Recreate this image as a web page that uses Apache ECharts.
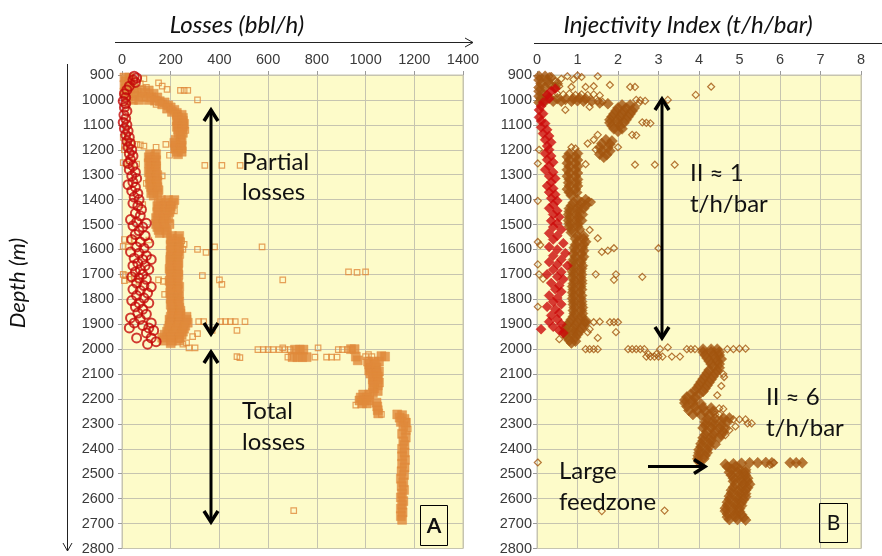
<!DOCTYPE html>
<html>
<head>
<meta charset="utf-8">
<script src="https://cdn.jsdelivr.net/npm/echarts@6/dist/echarts.min.js"></script>
<style>
html,body{margin:0;padding:0;background:#fff;}
#c{width:882px;height:556px;}
</style>
</head>
<body>
<div id="c"></div>
<script>
// ---------- tick labels ----------
const lossTicks = [0, 200, 400, 600, 800, 1000, 1200, 1400];
const iiTicks = [0, 1, 2, 3, 4, 5, 6, 7, 8];
const depthTicks = [900,1000,1100,1200,1300,1400,1500,1600,1700,1800,1900,2000,2100,2200,2300,2400,2500,2600,2700,2800];

// ---------- Panel A: losses (bbl/h) vs depth (m) ----------
// dense core of the orange square cloud
const lossCore = [
[10,910],[30,910],[15,925],[35,925],[10,940],[30,940],[15,955],[35,955],[10,970],[25,985],
[50,955],[80,960],[110,962],[60,970],[95,972],[130,975],[50,985],[85,988],[120,990],[145,990],[70,1000],[110,1000],[135,1003],[45,1000],
[155,1005],[175,1010],[165,1018],[190,1022],[200,1030],[185,1035],[215,1040],[205,1048],[225,1052],
[225,1060],[245,1060],[230,1072],[250,1072],[225,1084],[250,1084],[230,1096],[255,1096],[225,1108],[250,1108],[230,1120],[248,1120],[232,1132],[250,1132],[240,1142],
[220,1160],[245,1160],[215,1172],[240,1172],[220,1184],[245,1184],[218,1196],[242,1196],[225,1208],[245,1208],[230,1218],
[115,1218],[140,1218],[110,1230],[135,1230],[115,1242],[140,1242],[110,1254],[135,1254],[120,1266],[140,1266],[115,1278],[140,1278],[110,1290],[135,1290],[120,1302],[145,1302],[115,1314],[140,1314],[120,1326],[145,1326],[115,1338],[140,1338],[120,1350],[145,1350],[125,1362],[150,1362],[120,1374],[145,1374],[130,1384],
[160,1402],[190,1402],[215,1402],[150,1414],[180,1414],[210,1414],[145,1426],[175,1426],[200,1426],[150,1438],[180,1438],[200,1438],[145,1450],[175,1450],[195,1450],[150,1462],[180,1462],[140,1474],[170,1474],[190,1474],[145,1486],[175,1486],[140,1498],[170,1498],[195,1498],[145,1510],[175,1510],[150,1522],[180,1522],[155,1534],[185,1534],
[205,1546],[235,1546],[200,1558],[230,1558],[205,1570],[235,1570],[200,1582],[225,1582],[205,1594],[235,1594],[200,1606],[230,1606],[205,1618],[235,1618],[200,1630],[228,1630],[198,1642],[225,1642],[205,1654],[232,1654],[200,1666],[228,1666],[195,1678],[225,1678],[200,1690],[230,1690],[205,1702],[232,1702],[200,1714],[225,1714],[195,1726],[225,1726],[200,1738],[230,1738],[205,1750],[235,1750],[200,1762],[228,1762],[198,1774],[225,1774],[205,1786],[232,1786],[200,1798],[228,1798],[205,1810],[235,1810],[200,1822],[230,1822],[205,1834],[235,1834],[210,1846],[240,1846],
[205,1858],[240,1858],[200,1870],[235,1870],[265,1870],[195,1882],[230,1882],[265,1882],[200,1894],[235,1894],[270,1894],[195,1906],[230,1906],[260,1906],[190,1918],[225,1918],[255,1918],[185,1930],[220,1930],[250,1930],[175,1942],[210,1942],[245,1942],[165,1954],[200,1954],[235,1954],[170,1966],[205,1966],[235,1966],[200,1976],
[710,2002],[730,2002],[745,2002],[940,2000],[955,2000],[700,2032],[720,2032],[740,2032],[758,2032],[960,2030],[968,2045],[1065,2028],[1080,2030],
[1010,2050],[1035,2050],[1055,2050],[1015,2062],[1040,2062],[1020,2074],[1045,2074],[1015,2086],[1040,2086],[1055,2090],[1020,2098],[1045,2098],[1030,2110],[1050,2110],[1030,2122],[1050,2122],[1035,2134],[1055,2134],[1030,2146],[1050,2146],[1035,2158],[1050,2168],[1030,2176],
[990,2182],[1015,2182],[980,2194],[1005,2194],[975,2206],[995,2206],[1015,2206],[985,2218],[1005,2218],
[1045,2215],[1048,2230],[1050,2245],[1052,2258],
[1130,2262],[1150,2265],[1140,2275],[1160,2280],[1145,2292],[1165,2295],[1155,2310],[1165,2325],[1150,2340],[1165,2355],[1155,2370],[1160,2385],[1150,2400],[1160,2415],[1150,2430],[1162,2445],[1150,2460],[1160,2475],[1148,2490],[1158,2505],[1145,2520],[1155,2535],[1148,2550],[1158,2565],[1150,2580],[1145,2595],[1155,2610],[1150,2625],[1145,2640],[1152,2655],[1145,2670],[1150,2685]
];
// scattered single squares
const lossScatter = [
[90,915],[40,928],[75,935],[150,932],[165,945],[100,950],[185,958],[240,962],[255,962],[270,962],[310,1000],[95,992],[45,1000],[140,1018],[15,1010],
[255,1108],[262,1122],[245,1140],[250,1200],[215,1195],
[5,1150],[20,1168],[40,1170],[10,1185],[60,1178],[75,1180],[90,1185],[140,1190],[180,1178],[195,1222],[10,1200],[5,1252],[20,1258],[60,1258],[30,1245],
[340,1263],[410,1263],[485,1263],[165,1305],[100,1335],[85,1420],[215,1445],
[10,1560],[30,1562],[50,1560],[5,1588],[25,1590],[110,1562],[245,1565],[255,1580],[250,1600],[310,1600],[345,1612],[380,1590],[575,1590],
[5,1700],[15,1705],[30,1720],[50,1710],[10,1725],[70,1728],[150,1722],[170,1728],[330,1705],[400,1722],[410,1740],[660,1722],[930,1690],[965,1692],[1000,1690],
[240,1782],[175,1780],[230,1900],[315,1890],[335,1890],[405,1890],[425,1890],[445,1890],[465,1890],[505,1890],[370,1925],[472,1925],[235,1962],[250,1980],[265,1975],[290,1950],[310,1938],[275,1995],[300,1995],
[472,2030],[484,2034],[558,2002],[580,2002],[600,2002],[620,2002],[645,2002],[669,2002],[660,1995],[690,2002],[805,1995],[888,2002],[905,2002],[925,2002],[945,2002],
[681,2032],[792,2032],[840,2032],[860,2032],[883,2032],[1000,2030],[1026,2030],[1012,2022],[960,2225],[1065,2262],[705,2648],[1175,2320],[1170,2290]
];
// red circles
const lossRed = [
[50,905],[60,912],[45,920],[55,930],[30,945],[20,960],[10,975],[15,990],[5,1005],[15,1015],[10,1030],[20,1045],[8,1060],[15,1075],[5,1090],[20,1100],[10,1115],[25,1125],[15,1140],[30,1150],[20,1165],[35,1175],[25,1190],[40,1200],[30,1215],[45,1225],[35,1240],[25,1255],[45,1265],[30,1280],[55,1290],[40,1305],[60,1315],[45,1330],[25,1340],[55,1350],[40,1365],[65,1375],[50,1390],[70,1400],[45,1415],[65,1425],[80,1440],[55,1455],[75,1465],[35,1480],[60,1490],[100,1495],[45,1505],[85,1510],[70,1525],[55,1540],[95,1545],[40,1560],[75,1570],[110,1575],[60,1590],[90,1595],[35,1610],[70,1615],[100,1625],[50,1635],[85,1640],[120,1640],[65,1655],[45,1665],[95,1665],[75,1680],[110,1680],[55,1690],[85,1700],[40,1710],[70,1715],[100,1720],[60,1735],[90,1745],[120,1750],[45,1760],[75,1765],[105,1775],[60,1785],[90,1795],[40,1805],[70,1815],[110,1815],[55,1830],[85,1840],[65,1855],[100,1860],[35,1875],[75,1880],[50,1895],[120,1895],[85,1905],[30,1915],[110,1915],[130,1925],[100,1935],[60,1955],[120,1955],[140,1970],[105,1980]
];

// ---------- Panel B: injectivity index (t/h/bar) vs depth (m) ----------
const iiCore = [
[0.05,905],[0.2,905],[0.35,910],[0.05,920],[0.25,920],[0.1,935],[0.3,935],[0.5,935],[0.05,950],[0.2,950],[0.45,950],[0.05,965],[0.15,975],[0.05,985],[0.1,995],[0.3,990],[0.5,995],[0.7,998],[0.9,995],[1.05,992],[1.2,995],[0.2,1005],[0.4,1005],[0.6,1005],[0.85,1005],[1.0,1003],[1.15,1005],[1.35,1005],[0.05,1010],[1.55,1012],[1.75,1015],
[2.1,1020],[2.3,1020],[2.0,1032],[2.2,1032],[2.4,1032],[1.95,1044],[2.15,1044],[2.35,1044],[1.9,1056],[2.1,1056],[2.3,1056],[1.85,1068],[2.05,1068],[2.25,1068],[1.8,1080],[2.0,1080],[2.2,1080],[1.8,1092],[2.0,1092],[2.15,1092],[1.85,1104],[2.05,1104],[1.9,1116],[2.1,1116],[2.0,1126],
[1.7,1160],[1.85,1165],[1.6,1175],[1.8,1178],[1.55,1190],[1.75,1192],[1.6,1205],[1.8,1205],[1.55,1218],[1.72,1220],[1.65,1230],
[0.8,1215],[1.0,1215],[0.75,1228],[0.95,1228],[0.8,1241],[1.0,1241],[0.75,1254],[0.95,1254],[0.8,1267],[1.0,1267],[0.75,1280],[0.95,1280],[0.8,1293],[1.0,1293],[0.75,1306],[0.95,1306],[0.8,1319],[1.0,1319],[0.78,1332],[0.98,1332],[0.8,1345],[1.0,1345],[0.75,1358],[0.95,1358],[0.8,1371],[0.98,1371],[0.85,1384],
[1.0,1400],[1.2,1400],[0.9,1412],[1.1,1412],[1.28,1410],[0.85,1424],[1.05,1424],[1.2,1424],[0.8,1436],[1.0,1436],[1.15,1436],[0.8,1448],[1.0,1448],[0.78,1460],[0.98,1460],[1.12,1460],[0.8,1472],[1.0,1472],[0.78,1484],[0.98,1484],[1.1,1484],[0.8,1496],[1.0,1496],[0.8,1508],[1.0,1508],[0.85,1520],[1.05,1520],[0.85,1532],
[1.0,1545],[1.15,1545],[0.95,1557],[1.15,1557],[1.0,1569],[1.2,1569],[0.95,1581],[1.15,1581],[0.92,1593],[1.12,1593],[0.95,1605],[1.15,1605],[0.9,1617],[1.1,1617],[0.95,1629],[1.15,1629],[0.9,1641],[1.1,1641],[0.88,1653],[1.08,1653],[0.92,1665],[1.12,1665],[0.9,1677],[1.1,1677],[0.88,1689],[1.08,1689],[0.9,1701],[1.1,1701],[0.88,1713],[1.08,1713],[0.92,1725],[1.1,1725],[0.9,1737],[1.1,1737],[0.88,1749],[1.08,1749],[0.9,1761],[1.1,1761],[0.88,1773],[1.06,1773],[0.9,1785],[1.1,1785],[0.88,1797],[1.08,1797],[0.9,1809],[1.1,1809],[0.9,1821],[1.1,1821],[0.92,1833],[1.12,1833],[0.9,1845],[1.1,1845],[0.92,1857],[1.12,1857],[0.9,1869],[1.1,1869],
[0.85,1881],[1.05,1881],[1.2,1885],[0.8,1893],[1.0,1893],[1.2,1893],[0.75,1905],[0.95,1905],[1.15,1905],[0.7,1917],[0.9,1917],[1.1,1917],[0.7,1929],[0.9,1929],[1.05,1929],[0.7,1941],[0.88,1941],[1.0,1941],[0.75,1953],[0.95,1953],[0.8,1965],[0.95,1968],[0.85,1975],
[4.1,2000],[4.3,2000],[4.45,2000],[4.1,2012],[4.3,2012],[4.5,2012],[4.15,2024],[4.35,2024],[4.5,2024],[4.2,2036],[4.4,2036],[4.55,2040],[4.25,2048],[4.45,2048],[4.3,2060],[4.5,2060],
[4.35,2072],[4.5,2075],[4.25,2084],[4.45,2086],[4.2,2096],[4.4,2098],[4.15,2108],[4.35,2110],[4.1,2120],[4.3,2122],[4.05,2132],[4.25,2134],[4.0,2144],[4.2,2146],[3.95,2156],[4.15,2158],[3.9,2168],[4.1,2170],[3.8,2180],[4.0,2182],[3.7,2192],[3.9,2194],[3.65,2204],[3.85,2206],
[3.65,2216],[3.85,2216],[4.05,2220],[3.7,2230],[3.9,2232],[4.1,2234],[4.3,2236],[3.75,2246],[3.95,2248],[4.15,2250],[4.35,2250],[3.85,2262],[4.05,2264],[4.25,2264],
[4.2,2280],[4.4,2278],[4.6,2276],[4.75,2276],[4.15,2292],[4.35,2292],[4.55,2290],[4.7,2292],[4.15,2304],[4.35,2304],[4.55,2306],[4.1,2316],[4.3,2316],[4.5,2318],[4.65,2318],
[4.2,2330],[4.4,2330],[4.6,2332],[4.15,2344],[4.35,2344],[4.55,2344],[4.1,2356],[4.3,2356],[4.5,2356],[4.1,2368],[4.3,2368],[4.05,2380],[4.25,2380],[4.4,2382],[4.05,2392],[4.25,2392],[4.0,2404],[4.2,2404],[4.0,2416],[4.2,2416],[3.98,2428],[4.15,2428],[3.97,2440],[4.12,2440],[4.0,2452],
[4.65,2462],[4.85,2460],[5.05,2458],[5.25,2456],[5.45,2456],[5.65,2455],[5.8,2456],[4.7,2472],[4.9,2472],[6.25,2456],[6.4,2456],[6.55,2456],
[4.8,2482],[5.0,2482],[5.15,2484],[4.75,2494],[4.95,2494],[5.15,2494],[4.8,2506],[5.0,2506],[5.15,2506],[4.85,2518],[5.05,2518],[5.2,2518],[4.85,2530],[5.05,2530],[5.2,2530],[4.9,2542],[5.1,2542],[5.25,2542],[4.85,2554],[5.05,2554],[5.2,2556],[4.8,2566],[5.0,2566],[5.15,2566],[4.8,2578],[5.0,2578],[5.15,2580],[4.75,2590],[4.95,2590],[5.15,2592],[4.75,2602],[4.95,2602],[5.1,2604],[4.7,2614],[4.9,2614],[5.05,2616],[4.7,2626],[4.9,2626],[5.05,2628],[4.65,2638],[4.85,2638],[5.0,2640],[4.65,2650],[4.85,2650],[5.0,2652],[4.7,2662],[4.9,2662],[5.05,2664],[4.7,2674],[4.9,2674],[5.1,2676],[4.75,2684],[4.95,2684],[5.15,2686]
];
const iiScatter = [
[0.3,905],[0.75,905],[1.0,902],[1.1,908],[1.5,905],[0.6,915],[0.9,918],[0.45,925],
[0.35,945],[0.55,945],[0.85,948],[1.2,948],[1.4,945],[1.8,940],[2.3,948],[2.42,948],[4.3,947],
[0.5,975],[0.65,978],[0.8,975],[0.95,980],[1.1,978],[1.25,980],[1.4,978],[1.55,982],[3.92,980],
[1.5,1005],[1.62,1008],[2.45,1000],[2.55,1002],[2.67,1004],[3.23,1000],[2.52,1012],[1.3,1028],[0.7,1040],
[2.6,1090],[2.7,1092],[2.8,1094],[2.35,1140],[2.45,1142],[1.5,1140],[1.4,1160],[1.25,1175],[1.45,1200],[2.0,1190],[0.85,1190],[0.95,1195],[1.2,1258],[2.42,1260],[2.91,1260],[3.4,1260],
[0.05,1200],[0.02,1255],[0.02,1405],[0.02,1570],[0.08,1582],[0.02,1660],[0.05,1700],[0.15,1718],[0.02,1830],
[1.35,1410],[1.3,1522],[1.5,1555],[1.6,1610],[1.75,1605],[1.9,1595],[3.0,1595],[1.45,1700],[1.9,1722],[1.95,1700],[2.6,1710],
[1.2,1895],[1.4,1892],[1.55,1890],[1.8,1892],[1.9,1892],[2.0,1892],[1.3,1920],[1.25,1932],[1.95,1932],[1.5,1955],[0.55,1960],
[1.2,2000],[1.3,2000],[1.4,2000],[1.5,2000],[2.25,2000],[2.35,2000],[2.45,2000],[2.55,2000],[2.65,2000],[3.04,2000],[3.23,1993],[3.7,2000],[3.8,2000],[3.9,2000],[4.7,2000],[4.85,2000],[5.0,1998],[5.15,1998],
[2.7,2030],[2.8,2030],[2.9,2030],[3.0,2030],[3.1,2030],[3.33,2030],[3.53,2030],[2.75,2020],[2.95,2020],
[4.6,2100],[4.62,2112],[4.55,2148],[4.45,2185],[4.5,2238],[4.6,2240],[4.4,2262],[4.5,2262],[4.85,2282],[5.0,2282],[5.15,2282],[5.2,2298],[5.3,2298],[4.9,2310],[4.75,2325],[4.65,2345],
[0.02,2455],[1.6,2650],[3.15,2648],[5.85,2456],[5.75,2465]
];
const iiRed = [
[0.45,955],[0.35,965],[0.25,980],[0.3,995],[0.15,1010],[0.1,1025],[0.05,1040],[0.15,1055],[0.05,1070],[0.1,1085],[0.2,1095],[0.1,1110],[0.25,1120],[0.15,1135],[0.3,1145],[0.2,1160],[0.35,1170],[0.25,1185],[0.3,1200],[0.2,1215],[0.35,1225],[0.25,1240],[0.4,1250],[0.3,1265],[0.2,1280],[0.4,1290],[0.3,1305],[0.45,1315],[0.35,1330],[0.25,1345],[0.4,1355],[0.3,1370],[0.45,1380],[0.35,1395],[0.5,1405],[0.4,1420],[0.3,1435],[0.5,1445],[0.4,1460],[0.55,1470],[0.35,1485],[0.5,1495],[0.4,1510],[0.6,1520],[0.3,1535],[0.5,1545],[0.4,1560],[0.65,1575],[0.3,1590],[0.5,1600],[0.7,1615],[0.4,1625],[0.6,1640],[0.3,1650],[0.5,1660],[0.75,1665],[0.4,1680],[0.6,1690],[0.25,1700],[0.5,1710],[0.65,1720],[0.35,1735],[0.55,1745],[0.45,1760],[0.6,1770],[0.3,1785],[0.5,1795],[0.4,1810],[0.6,1820],[0.25,1830],[0.45,1840],[0.55,1855],[0.35,1865],[0.5,1880],[0.3,1890],[0.6,1900],[0.4,1910],[0.1,1920],[0.55,1925],[0.65,1935]
];

// ---------- styling ----------
const ORANGE = '#E0893B';
const RED_C = '#C40A0A';
const BROWN = '#A3550F';
const RED_D = '#CC0B0B';
const PLOT_BG = '#FDFBC9';
const GRID = '#C6C4B0';
const LABEL_FONT = 'Liberation Sans';
const ANN_FONT = 'Lato';

function plain(v){ return String(v); }

function xAxisOf(idx, ticks){
  return {
    gridIndex: idx, type:'value', position:'top',
    min: ticks[0], max: ticks[ticks.length-1], interval: ticks[1]-ticks[0],
    axisLine:{show:false},
    axisTick:{show:true, length:4, lineStyle:{color:'#9a9a9a'}},
    axisLabel:{fontFamily:LABEL_FONT, fontSize:14.5, color:'#3a3a3a', margin:8, formatter:plain},
    splitLine:{show:true, lineStyle:{color:GRID, width:1}}
  };
}
function yAxisOf(idx, margin){
  return {
    gridIndex: idx, type:'value', inverse:true,
    min: depthTicks[0], max: depthTicks[depthTicks.length-1], interval: depthTicks[1]-depthTicks[0],
    axisLine:{show:false},
    axisTick:{show:true, length:4, lineStyle:{color:'#9a9a9a'}},
    axisLabel:{fontFamily:LABEL_FONT, fontSize:14.5, color:'#3a3a3a', margin:margin, formatter:plain},
    splitLine:{show:true, lineStyle:{color:GRID, width:1}}
  };
}

// annotation helpers (pure drawing)
function chev(x, y, dir){ // dir=-1 tip up, +1 tip down
  return {type:'polyline', silent:true, z:100,
    shape:{points:[[x-7, y-dir*11],[x, y],[x+7, y-dir*11]]},
    style:{stroke:'#000', lineWidth:3.5, fill:null, lineJoin:'miter'}};
}
function dblArrow(x, y1, y2){
  return [
    {type:'line', silent:true, z:100, shape:{x1:x, y1:y1+2, x2:x, y2:y2-2}, style:{stroke:'#000', lineWidth:3}},
    chev(x, y1, -1), chev(x, y2, 1)
  ];
}
function txt(s, x, y, size, opts){
  opts = opts || {};
  return {type:'text', silent:true, z:100, x:x, y:y, rotation: opts.rot || 0,
    style:{text:s, fontFamily:ANN_FONT, fontSize:size, fontStyle:opts.italic?'italic':'normal',
      fontWeight: opts.bold ? 'bold':'normal',
      fill:'#111', align: opts.align || 'left', verticalAlign:'middle'}};
}

const graphics = [].concat(
  // titles
  [txt('Losses (bbl/h)', 237, 25, 24, {italic:true, align:'center'}),
   txt('Injectivity Index (t/h/bar)', 688, 25, 24, {italic:true, align:'center'}),
   txt('Depth (m)', 18, 283, 22, {italic:true, align:'center', rot:Math.PI/2})],
  // top axis arrow line (panel A)
  [{type:'line', silent:true, shape:{x1:115, y1:42.5, x2:473, y2:42.5}, style:{stroke:'#222', lineWidth:1}},
   {type:'polyline', silent:true, shape:{points:[[465,38],[473,42.5],[465,47]]}, style:{stroke:'#222', lineWidth:1, fill:null}},
   {type:'line', silent:true, shape:{x1:534, y1:43.5, x2:882, y2:43.5}, style:{stroke:'#222', lineWidth:1}},
   // depth arrow
   {type:'line', silent:true, shape:{x1:67.5, y1:64, x2:67.5, y2:551}, style:{stroke:'#222', lineWidth:1}},
   {type:'polyline', silent:true, shape:{points:[[63,543],[67.5,551],[72,543]]}, style:{stroke:'#222', lineWidth:1, fill:null}}],
  // panel A annotations
  dblArrow(211, 110, 334),
  dblArrow(211, 352, 522),
  [txt('Partial', 242, 162, 24), txt('losses', 242, 192, 24),
   txt('Total', 242, 411, 24), txt('losses', 242, 442, 24),
   {type:'rect', silent:true, z:100, shape:{x:420.5, y:505.5, width:27, height:40}, style:{stroke:'#000', lineWidth:1, fill:null}},
   txt('A', 434, 526, 21, {align:'center', bold:true})],
  // panel B annotations
  dblArrow(662, 99, 338),
  [txt('II \u2248 1', 690, 173, 24), txt('t/h/bar', 690, 204, 24),
   txt('II \u2248 6', 766, 397, 24), txt('t/h/bar', 766, 428, 24),
   txt('Large', 559, 471, 24), txt('feedzone', 559, 502, 24),
   {type:'line', silent:true, z:100, shape:{x1:648, y1:466.5, x2:703, y2:466.5}, style:{stroke:'#000', lineWidth:3}},
   {type:'polyline', silent:true, z:100, shape:{points:[[694,459.5],[705,466.5],[694,473.5]]}, style:{stroke:'#000', lineWidth:3.5, fill:null}},
   {type:'rect', silent:true, z:100, shape:{x:819.5, y:503.5, width:28, height:39}, style:{stroke:'#000', lineWidth:1, fill:null}},
   txt('B', 833.5, 523, 21, {align:'center'})]
);

const chart = echarts.init(document.getElementById('c'), null, {renderer:'canvas'});
chart.setOption({
  animation:false,
  backgroundColor:'#ffffff',
  grid:[
    {left:122, top:75, width:341, height:476, show:true, backgroundColor:PLOT_BG, borderColor:GRID, borderWidth:1},
    {left:537, top:75, width:324, height:476, show:true, backgroundColor:PLOT_BG, borderColor:GRID, borderWidth:1}
  ],
  xAxis:[xAxisOf(0, lossTicks), xAxisOf(1, iiTicks)],
  yAxis:[yAxisOf(0, 8), yAxisOf(1, 5)],
  series:[
    {type:'scatter', xAxisIndex:0, yAxisIndex:0, data:lossCore, symbol:'rect', symbolSize:9,
      itemStyle:{color:ORANGE, borderColor:ORANGE, borderWidth:0.5}},
    {type:'scatter', xAxisIndex:0, yAxisIndex:0, data:lossScatter, symbol:'rect', symbolSize:5.5,
      itemStyle:{color:'rgba(0,0,0,0)', borderColor:ORANGE, borderWidth:1.2}},
    {type:'scatter', xAxisIndex:0, yAxisIndex:0, data:lossRed, symbol:'circle', symbolSize:9,
      itemStyle:{color:'rgba(0,0,0,0)', borderColor:RED_C, borderWidth:2}},
    {type:'scatter', xAxisIndex:1, yAxisIndex:1, data:iiCore, symbol:'diamond', symbolSize:11,
      itemStyle:{color:BROWN, borderColor:BROWN, borderWidth:0.5}},
    {type:'scatter', xAxisIndex:1, yAxisIndex:1, data:iiScatter, symbol:'diamond', symbolSize:7,
      itemStyle:{color:'rgba(0,0,0,0)', borderColor:BROWN, borderWidth:1.2}},
    {type:'scatter', xAxisIndex:1, yAxisIndex:1, data:iiRed, symbol:'diamond', symbolSize:10,
      itemStyle:{color:RED_D, borderColor:RED_D, borderWidth:0.5}}
  ],
  graphic: graphics
});
</script>
</body>
</html>
